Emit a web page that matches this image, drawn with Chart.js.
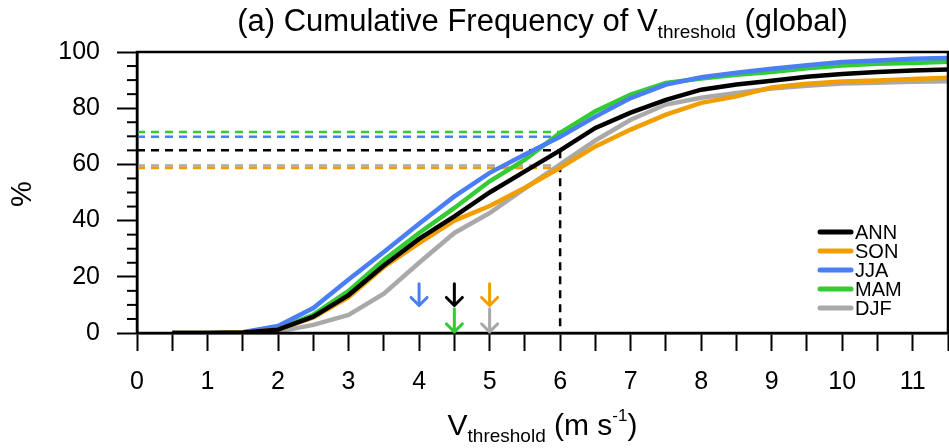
<!DOCTYPE html>
<html>
<head>
<meta charset="utf-8">
<script src="https://cdn.jsdelivr.net/npm/chart.js@4.4.0/dist/chart.umd.min.js"></script>
<style>
  body { margin: 0; background: #fff; }
  #wrap { position: relative; width: 949px; height: 448px; font-family: "Liberation Sans", Arial, sans-serif; color: #000; }
  #myChart { position: absolute; left: 0; top: 0; }
  .lbl { position: absolute; white-space: nowrap; line-height: 1; }
  #title { left: 137px; width: 811px; top: 5px; text-align: center; font-size: 31px; }
  #xtitle { left: 137px; width: 811px; top: 407px; text-align: center; font-size: 30px; }
  #ytitle { left: 7px; top: 177px; font-size: 29px; transform: rotate(-90deg); transform-origin: 15px 15px; }
  sub { font-size: 19px; vertical-align: -7px; }
  sup { font-size: 17px; vertical-align: 14px; }
</style>
</head>
<body>
<div id="wrap">
  <canvas id="myChart" width="949" height="448"></canvas>
  <div class="lbl" id="title">(a) Cumulative Frequency of V<sub>threshold</sub> (global)</div>
  <div class="lbl" id="xtitle">V<sub>threshold</sub> (m s<sup>-1</sup>)</div>
  <div class="lbl" id="ytitle">%</div>
</div>
<script>
// wind threshold bins (m/s)
const vThreshold = [0.5, 1, 1.5, 2, 2.5, 3, 3.5, 4, 4.5, 5, 5.5, 6, 6.5, 7, 7.5, 8, 8.5, 9, 9.5, 10, 10.5, 11, 11.5];

const seasons = ["ANN", "SON", "JJA", "MAM", "DJF"];
const colors = ["#000000", "#f09e00", "#4a7ef5", "#33cc33", "#a9a9a9"];

const ann = [0, 0, 0.2, 1.2, 5.8, 13.5, 24, 33.5, 41.5, 50, 57.5, 65, 73, 78.4, 83, 86.6, 88.4, 89.8, 91.2, 92.2, 92.9, 93.4, 93.8];
const son = [0, 0, 0.3, 1.2, 5.5, 12.8, 23.5, 32, 40, 45.2, 51.7, 58.8, 66.4, 72.4, 77.7, 81.9, 84.2, 87.4, 88.7, 89.5, 89.9, 90.4, 90.8];
const jja = [0, 0, 0.3, 2.5, 8.9, 19, 28.8, 38.9, 48.6, 57, 63.5, 69.8, 77, 83.6, 88.4, 91, 92.6, 94, 95.3, 96.4, 97, 97.6, 97.9];
const mam = [0, 0, 0.2, 1.5, 6.5, 15, 26, 35.6, 44.5, 54, 61.7, 71.2, 78.9, 84.8, 89, 90.6, 91.9, 92.9, 94.2, 95.2, 95.8, 96.1, 96.5];
const djf = [0, 0, 0.1, 0.5, 2.9, 6.4, 14, 25, 35.6, 42.7, 51.5, 60, 68.5, 75.9, 81.3, 83.7, 85.4, 87, 88, 88.8, 89.1, 89.4, 89.6];
const seriesValues = [ann, son, jja, mam, djf];

// percent reached at 6 m/s (dashed guide lines)
const refX = 6;
const refPercent = [65, 58.7, 69.8, 71.5, 59.6];

// arrows marking the median threshold per season
const arrowX = [4, 4.5, 4.5, 5, 5];
const arrowColor = ["#4a7ef5", "#000000", "#33cc33", "#f09e00", "#a9a9a9"];
const arrowFrom = [17.5, 17.5, 8.6, 17.5, 8.6];
const arrowTo = [9.8, 9.8, 0.4, 9.8, 0.4];

const xTickLabels = [0, 1, 2, 3, 4, 5, 6, 7, 8, 9, 10, 11];
const yTickLabels = [0, 20, 40, 60, 80, 100];

const datasets = [];
seasons.forEach((s, i) => {
  datasets.push({
    label: s,
    data: vThreshold.map((v, j) => ({ x: v, y: seriesValues[i][j] })),
    borderColor: colors[i],
    borderWidth: 4.5,
    pointRadius: 0,
    tension: 0,
    order: i === 0 ? 0 : 1,
  });
});
// dashed lines, drawn under the curves
seasons.forEach((s, i) => {
  datasets.push({
    label: s + " ref",
    data: [{ x: 0, y: refPercent[i] }, { x: refX, y: refPercent[i] }],
    borderColor: colors[i],
    borderWidth: 2.5,
    borderDash: [8, 6],
    pointRadius: 0,
    order: 5,
  });
});
datasets.push({
  label: "ref vertical",
  data: [{ x: refX, y: refPercent[0] }, { x: refX, y: 0 }],
  borderColor: "#000",
  borderWidth: 2.5,
  borderDash: [8, 6],
  pointRadius: 0,
  order: 5,
});

const extras = {
  id: "extras",
  afterDatasetsDraw(chart) {
    const { ctx, chartArea: a, scales } = chart;
    const xs = scales.x, ys = scales.y;
    ctx.save();
    // box
    ctx.strokeStyle = "#000";
    ctx.lineWidth = 2.5;
    ctx.strokeRect(a.left, a.top, a.right - a.left, a.bottom - a.top);
    // minor y ticks
    ctx.lineWidth = 2;
    for (let v = 0; v <= 100; v += 5) {
      if (v % 20 === 0) continue;
      const y = ys.getPixelForValue(v);
      ctx.beginPath();
      ctx.moveTo(a.left - 10, y);
      ctx.lineTo(a.left, y);
      ctx.stroke();
    }
    // arrows
    ctx.lineWidth = 3;
    ctx.lineCap = "round";
    ctx.lineJoin = "round";
    arrowX.forEach((v, i) => {
      const x = xs.getPixelForValue(v);
      const y0 = ys.getPixelForValue(arrowFrom[i]);
      const y1 = ys.getPixelForValue(arrowTo[i]);
      ctx.strokeStyle = arrowColor[i];
      ctx.beginPath();
      ctx.moveTo(x, y0);
      ctx.lineTo(x, y1);
      ctx.moveTo(x - 8, y1 - 8);
      ctx.lineTo(x, y1);
      ctx.lineTo(x + 8, y1 - 8);
      ctx.stroke();
    });
    // legend
    ctx.lineWidth = 5;
    ctx.font = "20px 'Liberation Sans', Arial, sans-serif";
    ctx.textBaseline = "middle";
    ctx.fillStyle = "#000";
    seasons.forEach((s, i) => {
      const y = 232 + i * 19;
      ctx.strokeStyle = colors[i];
      ctx.beginPath();
      ctx.moveTo(820, y);
      ctx.lineTo(851, y);
      ctx.stroke();
      ctx.fillText(s, 855, y + 1);
    });
    ctx.restore();
  },
};

new Chart(document.getElementById("myChart").getContext("2d"), {
  type: "line",
  data: { datasets: datasets },
  options: {
    responsive: false,
    animation: false,
    layout: { padding: { top: 52, right: 1, left: 0, bottom: 0 } },
    plugins: { legend: { display: false }, tooltip: { enabled: false } },
    scales: {
      x: {
        type: "linear",
        min: 0,
        max: 11.5,
        afterFit: (s) => { s.height = 115; s.paddingRight = 0; s.paddingLeft = 0; },
        border: { color: "#000", width: 2.5 },
        grid: { drawOnChartArea: false, tickLength: 18, tickColor: "#000", tickWidth: 2 },
        ticks: {
          stepSize: 0.5,
          autoSkip: false,
          maxRotation: 0,
          padding: 16,
          color: "#000",
          font: { family: "'Liberation Sans', Arial, sans-serif", size: 25 },
          callback: (v) => (xTickLabels.includes(v) ? String(v) : ""),
        },
      },
      y: {
        min: 0,
        max: 100,
        afterFit: (s) => { s.width = 137; s.paddingTop = 0; s.paddingBottom = 0; },
        border: { color: "#000", width: 2.5 },
        grid: {
          drawOnChartArea: false,
          tickLength: 20,
          tickWidth: 2,
          tickColor: (c) => (c.tick && yTickLabels.includes(c.tick.value) ? "#000" : "rgba(0,0,0,0)"),
        },
        ticks: {
          stepSize: 5,
          autoSkip: false,
          padding: 17,
          color: "#000",
          font: { family: "'Liberation Sans', Arial, sans-serif", size: 25 },
          callback: (v) => (yTickLabels.includes(v) ? String(v) : ""),
        },
      },
    },
  },
  plugins: [extras],
});
</script>
</body>
</html>
